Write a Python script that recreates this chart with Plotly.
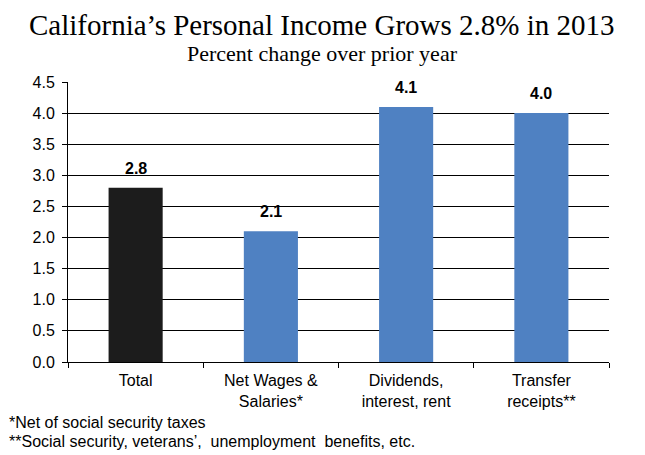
import plotly.graph_objects as go

categories = ["Total", "Net Wages &<br>Salaries*", "Dividends,<br>interest, rent", "Transfer<br>receipts**"]
values = [2.8, 2.1, 4.1, 4.0]
bar_colors = ["#1c1c1c", "#4f81c2", "#4f81c2", "#4f81c2"]
y_ticks = [0.0, 0.5, 1.0, 1.5, 2.0, 2.5, 3.0, 3.5, 4.0, 4.5]

# page body has an 8px margin, so the figure is drawn 8px smaller and everything is shifted
OFF = 8
W, H = 645 - OFF, 455 - OFF
ml, mt = 68 - OFF, 82 - OFF
mr = W - (609 - OFF)
mb = H - (362 - OFF)
plot_w = W - ml - mr
plot_h = H - mt - mb


def px_x(x):
    return (x - OFF - ml) / plot_w


def px_y(y):
    return 1 - (y - OFF - mt) / plot_h


fig = go.Figure()
fig.add_trace(go.Bar(
    x=categories, y=values,
    marker=dict(color=bar_colors, line=dict(width=0)),
    width=0.4,
    hoverinfo="skip",
))

for c, v in zip(categories, values):
    fig.add_annotation(
        x=c, y=v, text=f"<b>{v:.1f}</b>", showarrow=False,
        yanchor="bottom", yshift=9,
        font=dict(family="Liberation Sans, Arial", size=16, color="black"),
    )

serif = "Liberation Serif, Times New Roman, serif"
fig.add_annotation(
    xref="paper", yref="paper", x=px_x(322), y=px_y(OFF),
    xanchor="center", yanchor="top", showarrow=False, borderpad=0,
    text="California’s Personal Income Grows 2.8% in 2013",
    font=dict(family=serif, size=29, color="black"),
)
fig.add_annotation(
    xref="paper", yref="paper", x=px_x(322), y=px_y(54),
    xanchor="center", yanchor="middle", showarrow=False, borderpad=0,
    text="Percent change over prior year",
    font=dict(family=serif, size=22, color="black"),
)

foot = ["*Net of social security taxes", "**Social security, veterans’,  unemployment  benefits, etc."]
foot_y = [422, 441]
for t, yy in zip(foot, foot_y):
    fig.add_annotation(
        xref="paper", yref="paper", x=px_x(OFF), y=px_y(yy),
        xanchor="left", yanchor="middle", showarrow=False, borderpad=0, text=t,
        font=dict(family="Liberation Sans, Arial", size=16, color="black"),
    )

fig.update_layout(
    width=W, height=H,
    margin=dict(l=ml, r=mr, t=mt, b=mb),
    paper_bgcolor="white", plot_bgcolor="white",
    showlegend=False,
    font=dict(family="Liberation Sans, Arial", size=16, color="black"),
)
fig.update_xaxes(
    showline=True, linecolor="black", linewidth=1,
    ticks="outside", tickson="boundaries", ticklen=5, tickcolor="black",
    showgrid=False, tickfont=dict(size=16), ticklabelstandoff=4,
)
fig.update_yaxes(
    range=[0, 4.5], tickvals=y_ticks, tickformat=".1f",
    showline=True, linecolor="black", linewidth=1,
    ticks="outside", ticklen=5, tickcolor="black",
    showgrid=True, gridcolor="black", gridwidth=1,
    zeroline=False, tickfont=dict(size=16), ticklabelstandoff=4,
)

fig.write_html("out.html")
